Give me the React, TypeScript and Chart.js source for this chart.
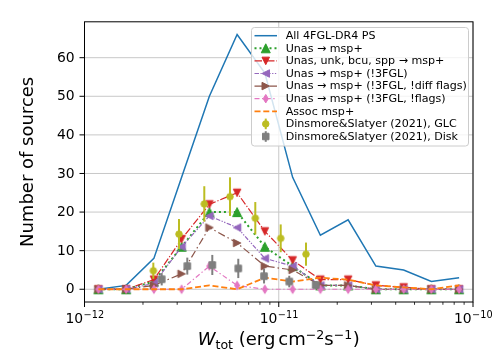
import React, { useEffect, useRef } from 'react';
import { Chart, registerables } from 'chart.js';
Chart.register(...registerables);

// ---- data ----
const fluxBins = [1.179e-12, 1.638e-12, 2.276e-12, 3.162e-12, 4.394e-12, 6.105e-12, 8.483e-12, 1.179e-11, 1.638e-11, 2.276e-11, 3.162e-11, 4.394e-11, 6.105e-11, 8.483e-11];
const allPS = [0, 1, 8, 29, 50, 66, 56, 29, 14, 18, 6, 5, 2, 3];
const unasMsp = [0, 0, 2, 11, 20, 20, 11, 6, 1, 1, 0, 0, 0, 0];
const unasUnkMsp = [0, 0, 2.5, 13, 22, 25, 15, 7.5, 2.5, 2.5, 1, 0.5, 0, 0];
const unasNo3FGL = [0, 0, 1.5, 11, 19, 16, 8, 6, 1, 1, 0, 0, 0, 0];
const unasNoDiff = [0, 0, 1, 4, 16, 12, 6, 5, 1, 1, 0, 0, 0, 0];
const unasNoFlags = [0, 0, 0, 0, 6, 1, 0, 0, 0, 0, 0, 0, 0, 0];
const assocMsp = [0, 0, 0, 0, 1, 0, 3, 2, 3, 2.5, 1, 0.5, 0, 1];

const dsGlcFlux = [2.261e-12, 3.065e-12, 4.137e-12, 5.61e-12, 7.573e-12, 1.0235e-11, 1.381e-11];
const dsGlcVal = [4.8, 14.3, 22.1, 24.0, 18.4, 13.2, 9.1];
const dsGlcErr = [2.1, 3.9, 4.6, 5.0, 4.2, 3.6, 3.0];
const dsDiskFlux = [2.497e-12, 3.382e-12, 4.549e-12, 6.19e-12, 8.4e-12, 1.133e-11, 1.55e-11];
const dsDiskVal = [2.6, 6.0, 6.3, 5.4, 3.4, 2.0, 1.1];
const dsDiskErr = [1.6, 2.2, 2.6, 2.5, 1.9, 1.5, 1.0];

const legendLabels = [
  'All 4FGL-DR4 PS',
  'Unas \u2192 msp+',
  'Unas, unk, bcu, spp \u2192 msp+',
  'Unas \u2192 msp+ (!3FGL)',
  'Unas \u2192 msp+ (!3FGL, !diff flags)',
  'Unas \u2192 msp+ (!3FGL, !flags)',
  'Assoc msp+',
  'Dinsmore&Slatyer (2021), GLC',
  'Dinsmore&Slatyer (2021), Disk',
];
const yTicks = [0, 10, 20, 30, 40, 50, 60];
const xMajorExp = [-12, -11, -10];

type Shape = 'tri-up' | 'tri-down' | 'tri-left' | 'tri-right' | 'thin-diamond' | 'circle' | 'square' | null;

function pathMarker(ctx: CanvasRenderingContext2D, shape: Shape, cx: number, cy: number, s: number) {
  const h = s / 2;
  ctx.beginPath();
  switch (shape) {
    case 'tri-up': ctx.moveTo(cx, cy - h); ctx.lineTo(cx - h, cy + h); ctx.lineTo(cx + h, cy + h); break;
    case 'tri-down': ctx.moveTo(cx, cy + h); ctx.lineTo(cx - h, cy - h); ctx.lineTo(cx + h, cy - h); break;
    case 'tri-left': ctx.moveTo(cx - h, cy); ctx.lineTo(cx + h, cy - h); ctx.lineTo(cx + h, cy + h); break;
    case 'tri-right': ctx.moveTo(cx + h, cy); ctx.lineTo(cx - h, cy - h); ctx.lineTo(cx - h, cy + h); break;
    case 'thin-diamond': ctx.moveTo(cx, cy - h); ctx.lineTo(cx + h * 0.6, cy); ctx.lineTo(cx, cy + h); ctx.lineTo(cx - h * 0.6, cy); break;
    case 'circle': ctx.arc(cx, cy, h, 0, Math.PI * 2); break;
    case 'square': ctx.rect(cx - h, cy - h, s, s); break;
  }
  ctx.closePath();
}
function drawMarker(ctx: CanvasRenderingContext2D, shape: Shape, cx: number, cy: number, s: number, color: string) {
  if (!shape) return;
  ctx.save();
  pathMarker(ctx, shape, cx, cy, s);
  ctx.fillStyle = color;
  ctx.fill();
  ctx.lineWidth = 1;
  ctx.strokeStyle = color;
  ctx.lineJoin = 'miter';
  ctx.stroke();
  ctx.restore();
}
function markerCanvas(shape: Shape, s: number, color: string) {
  const c = document.createElement('canvas');
  const n = Math.ceil(s + 4) + (Math.ceil(s + 4) % 2);
  c.width = n; c.height = n;
  const ctx = c.getContext('2d')!;
  drawMarker(ctx, shape, n / 2, n / 2, s, color);
  return c;
}

interface Style { color: string; width: number; dash: number[]; marker: Shape; msize: number; showLine: boolean; err?: number[]; errWidth?: number; }

const FONT = '"DejaVu Sans", sans-serif';

export default function App() {
  const ref = useRef<HTMLCanvasElement>(null);
  useEffect(() => {
    const styles: Style[] = [
      { color: '#1f77b4', width: 1.5, dash: [], marker: null, msize: 0, showLine: true },
      { color: '#2ca02c', width: 2, dash: [2, 3], marker: 'tri-up', msize: 9, showLine: true },
      { color: '#d62728', width: 1.2, dash: [7.5, 1.9, 1.2, 1.9], marker: 'tri-down', msize: 7.5, showLine: true },
      { color: '#9467bd', width: 1.2, dash: [4.5, 1.5, 1.3, 1.5, 1.3, 1.5], marker: 'tri-left', msize: 7.5, showLine: true },
      { color: '#8c564b', width: 1.2, dash: [7.5, 3, 1.5, 3], marker: 'tri-right', msize: 7.5, showLine: true },
      { color: '#e377c2', width: 1.2, dash: [5, 2.5, 1.3, 2.5], marker: 'thin-diamond', msize: 8.5, showLine: true },
      { color: '#ff7f0e', width: 1.8, dash: [6, 2.8], marker: null, msize: 0, showLine: true },
      { color: '#bcbd22', width: 2, dash: [], marker: 'circle', msize: 6.5, showLine: false, err: dsGlcErr, errWidth: 2 },
      { color: '#7f7f7f', width: 2, dash: [], marker: 'square', msize: 6.5, showLine: false, err: dsDiskErr, errWidth: 2 },
    ];
    const series: { xs: number[]; ys: number[] }[] = [
      { xs: fluxBins, ys: allPS },
      { xs: fluxBins, ys: unasMsp },
      { xs: fluxBins, ys: unasUnkMsp },
      { xs: fluxBins, ys: unasNo3FGL },
      { xs: fluxBins, ys: unasNoDiff },
      { xs: fluxBins, ys: unasNoFlags },
      { xs: fluxBins, ys: assocMsp },
      { xs: dsGlcFlux, ys: dsGlcVal },
      { xs: dsDiskFlux, ys: dsDiskVal },
    ];
    const markerImgs = styles.map((s) => (s.marker ? markerCanvas(s.marker, s.msize, s.color) : null));

    const datasets = series.map((sr, i) => {
      const st = styles[i];
      return {
        label: legendLabels[i],
        data: sr.xs.map((x, j) => ({ x, y: sr.ys[j] })),
        borderColor: st.color,
        backgroundColor: st.color,
        borderWidth: st.width,
        borderDash: st.dash,
        borderCapStyle: 'butt' as const,
        showLine: st.showLine,
        tension: 0,
        pointStyle: markerImgs[i] ? (markerImgs[i] as any) : false,
        pointRadius: markerImgs[i] ? 3 : 0,
        pointHoverRadius: markerImgs[i] ? 3 : 0,
        order: 20 - i,
        fill: false,
      };
    });

    const decor = {
      id: 'decor',
      beforeDatasetsDraw(chart: any) {
        const { ctx, chartArea: a, scales } = chart;
        ctx.save();
        ctx.strokeStyle = '#c8c8c8';
        ctx.lineWidth = 1;
        for (const t of yTicks) {
          const y = scales.y.getPixelForValue(t);
          ctx.beginPath(); ctx.moveTo(a.left, y); ctx.lineTo(a.right, y); ctx.stroke();
        }
        for (const e of xMajorExp) {
          const x = scales.x.getPixelForValue(Math.pow(10, e));
          ctx.beginPath(); ctx.moveTo(x, a.top); ctx.lineTo(x, a.bottom); ctx.stroke();
        }
        ctx.restore();
      },
      beforeDatasetDraw(chart: any, args: any) {
        const i = args.index;
        const st = styles[i];
        if (!st || !st.err) return;
        const { ctx, scales } = chart;
        ctx.save();
        ctx.strokeStyle = st.color;
        ctx.lineWidth = st.errWidth || 1.5;
        const sr = series[i];
        sr.xs.forEach((xv, j) => {
          const x = scales.x.getPixelForValue(xv);
          const y1 = scales.y.getPixelForValue(sr.ys[j] - st.err![j]);
          const y2 = scales.y.getPixelForValue(sr.ys[j] + st.err![j]);
          ctx.beginPath(); ctx.moveTo(x, y1); ctx.lineTo(x, y2); ctx.stroke();
        });
        ctx.restore();
      },
      afterDatasetsDraw(chart: any) {
        const { ctx, chartArea: a, scales } = chart;
        ctx.save();
        // spines
        ctx.strokeStyle = '#000';
        ctx.lineWidth = 1;
        ctx.strokeRect(a.left, a.top, a.right - a.left, a.bottom - a.top);
        // y ticks
        ctx.fillStyle = '#000';
        ctx.font = `13.9px ${FONT}`;
        ctx.textAlign = 'right';
        ctx.textBaseline = 'middle';
        for (const t of yTicks) {
          const y = scales.y.getPixelForValue(t);
          ctx.beginPath(); ctx.moveTo(a.left - 5, y); ctx.lineTo(a.left, y); ctx.stroke();
          ctx.fillText(String(t), a.left - 9.9, y + 0.5);
        }
        // x ticks
        for (let e = -12; e < -10; e++) {
          for (let m = 2; m <= 9; m++) {
            const x = scales.x.getPixelForValue(m * Math.pow(10, e));
            ctx.lineWidth = 0.8;
            ctx.beginPath(); ctx.moveTo(x, a.bottom); ctx.lineTo(x, a.bottom + 2.8); ctx.stroke();
          }
        }
        ctx.lineWidth = 1;
        for (const e of xMajorExp) {
          const x = scales.x.getPixelForValue(Math.pow(10, e));
          ctx.beginPath(); ctx.moveTo(x, a.bottom); ctx.lineTo(x, a.bottom + 5); ctx.stroke();
          const base = '10';
          const sup = '\u2212' + String(-e);
          ctx.font = `13.9px ${FONT}`;
          const wb = ctx.measureText(base).width;
          ctx.font = `9.7px ${FONT}`;
          const ws = ctx.measureText(sup).width;
          const x0 = x - (wb + ws) / 2;
          const by = a.bottom + 20.7;
          ctx.textAlign = 'left';
          ctx.textBaseline = 'alphabetic';
          ctx.font = `13.9px ${FONT}`;
          ctx.fillText(base, x0, by);
          ctx.font = `9.7px ${FONT}`;
          ctx.fillText(sup, x0 + wb + 0.5, by - 5);
        }
        // x label (mathtext-like)
        const fs = 18;
        const runs: { t: string; f: string; dy: number; gap?: number }[] = [
          { t: 'W', f: `italic ${fs}px ${FONT}`, dy: 0 },
          { t: 'tot', f: `${fs * 0.7}px ${FONT}`, dy: 3.5 },
          { t: ' (erg', f: `${fs}px ${FONT}`, dy: 0 },
          { t: 'cm', f: `${fs}px ${FONT}`, dy: 0, gap: 3 },
          { t: '\u22122', f: `${fs * 0.7}px ${FONT}`, dy: -6.4 },
          { t: 's', f: `${fs}px ${FONT}`, dy: 0 },
          { t: '\u22121', f: `${fs * 0.7}px ${FONT}`, dy: -6.4 },
          { t: ')', f: `${fs}px ${FONT}`, dy: 0, gap: 0.5 },
        ];
        let total = 0;
        const ws: number[] = [];
        for (const r of runs) { ctx.font = r.f; const w = ctx.measureText(r.t).width; ws.push(w); total += w + (r.gap || 0); }
        let cx = (a.left + a.right) / 2 - total / 2;
        const lby = 345;
        ctx.textAlign = 'left';
        ctx.textBaseline = 'alphabetic';
        runs.forEach((r, k) => { cx += r.gap || 0; ctx.font = r.f; ctx.fillText(r.t, cx, lby + r.dy); cx += ws[k]; });
        // y label
        ctx.save();
        ctx.translate(28.5, (a.top + a.bottom) / 2);
        ctx.rotate(-Math.PI / 2);
        ctx.font = `18px ${FONT}`;
        ctx.textAlign = 'center';
        ctx.textBaseline = 'middle';
        ctx.fillText('Number of sources', 0, 0);
        ctx.restore();

        // legend
        const lx = 251.5, ly = 27.5, lw = 217, lh = 118.5;
        ctx.beginPath();
        const r = 3;
        ctx.moveTo(lx + r, ly);
        ctx.arcTo(lx + lw, ly, lx + lw, ly + lh, r);
        ctx.arcTo(lx + lw, ly + lh, lx, ly + lh, r);
        ctx.arcTo(lx, ly + lh, lx, ly, r);
        ctx.arcTo(lx, ly, lx + lw, ly, r);
        ctx.closePath();
        ctx.fillStyle = 'rgba(255,255,255,0.8)';
        ctx.fill();
        ctx.strokeStyle = '#cccccc';
        ctx.lineWidth = 1;
        ctx.stroke();
        const hx0 = 254.5, hx1 = 277, hmid = (hx0 + hx1) / 2;
        styles.forEach((st, i) => {
          const y = 35.7 + i * 12.6;
          if (st.showLine) {
            ctx.save();
            ctx.strokeStyle = st.color;
            ctx.lineWidth = st.width;
            ctx.setLineDash(st.dash);
            ctx.lineCap = 'butt';
            ctx.beginPath(); ctx.moveTo(hx0, y); ctx.lineTo(hx1, y); ctx.stroke();
            ctx.restore();
          }
          if (st.err) {
            ctx.save();
            ctx.strokeStyle = st.color;
            ctx.lineWidth = st.errWidth || 1.5;
            ctx.beginPath(); ctx.moveTo(hmid, y - 5.3); ctx.lineTo(hmid, y + 5.3); ctx.stroke();
            ctx.restore();
          }
          drawMarker(ctx, st.marker, hmid, y, st.msize, st.color);
          ctx.fillStyle = '#000';
          ctx.font = `11.1px ${FONT}`;
          ctx.textAlign = 'left';
          ctx.textBaseline = 'middle';
          ctx.fillText(legendLabels[i], 285.7, y + 0.5);
        });
        ctx.restore();
      },
    };

    const chart = new Chart(ref.current!, {
      type: 'line',
      data: { datasets: datasets as any },
      options: {
        animation: false,
        responsive: false,
        devicePixelRatio: 1,
        layout: { padding: { left: 84.5, right: 25, top: 21.8, bottom: 54 } },
        plugins: { legend: { display: false }, tooltip: { enabled: false } },
        events: [],
        scales: {
          x: { type: 'logarithmic', min: 1e-12, max: 1e-10, display: false },
          y: { type: 'linear', min: -3.3, max: 69.3, display: false },
        },
      },
      plugins: [decor],
    });
    return () => chart.destroy();
  }, []);
  return (
    <div style={{ position: 'absolute', left: 0, top: 0, width: 498, height: 356 }}>
      <canvas ref={ref} width={498} height={356} style={{ width: 498, height: 356, display: 'block' }} />
    </div>
  );
}
